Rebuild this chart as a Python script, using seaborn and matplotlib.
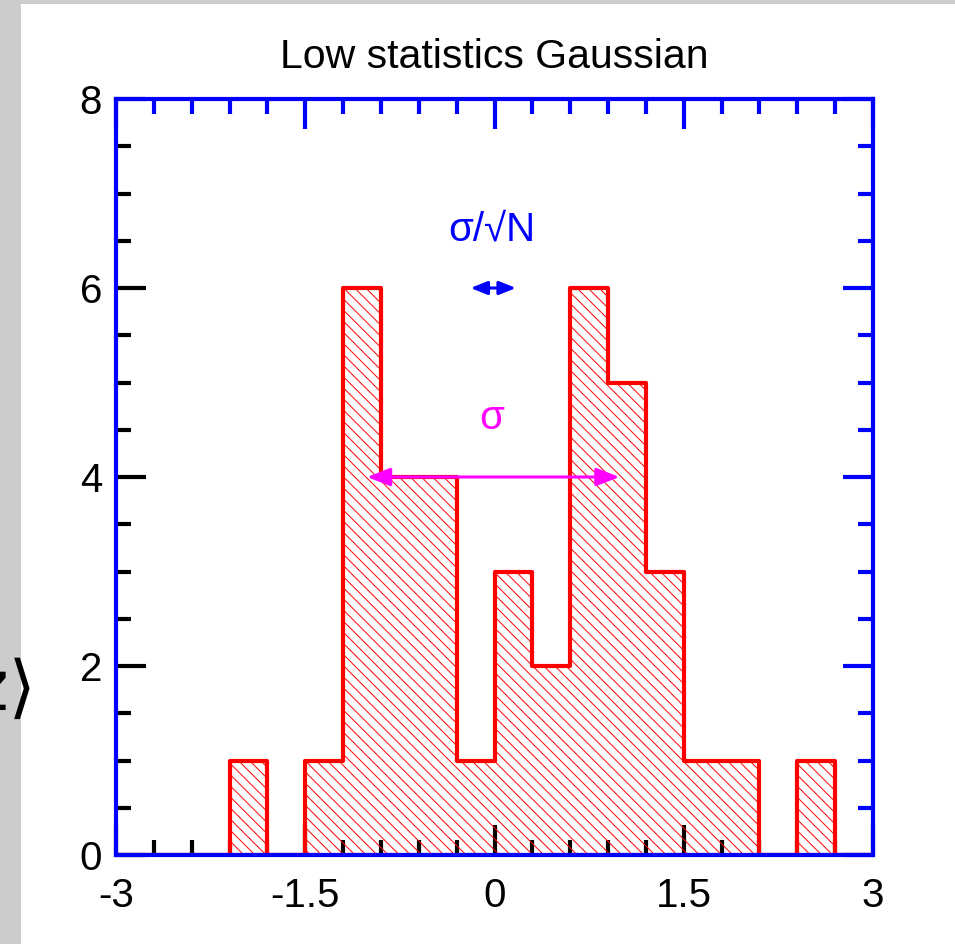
import numpy as np
import pandas as pd
import matplotlib
matplotlib.use("Agg")
import matplotlib.pyplot as plt
import matplotlib.patches as mpatches
from matplotlib.ticker import FixedLocator, MultipleLocator
import seaborn as sns

# ---- data ----
bin_edges = [-3.0, -2.7, -2.4, -2.1, -1.8, -1.5, -1.2, -0.9, -0.6, -0.3,
             0.0, 0.3, 0.6, 0.9, 1.2, 1.5, 1.8, 2.1, 2.4, 2.7, 3.0]
counts = [0, 0, 0, 1, 0, 1, 6, 4, 4, 1, 3, 2, 6, 5, 3, 1, 1, 0, 1, 0]
mean_val = -0.01
sigma_half = 1.0
sem_half = 0.18
sigma_arrow_y = 4.0
sem_arrow_y = 6.0
x_ticks = [-3, -1.5, 0, 1.5, 3]
x_ticklabels = ["-3", "-1.5", "0", "1.5", "3"]
y_ticks = [0, 2, 4, 6, 8]
y_ticklabels = ["0", "2", "4", "6", "8"]
title = "Low statistics Gaussian"
side_label = "⟨z⟩"

centers = [(a + b) / 2 for a, b in zip(bin_edges[:-1], bin_edges[1:])]
df = pd.DataFrame({"x": centers, "w": counts})

sns.set_style("white")
plt.rcParams["font.family"] = ["Liberation Sans", "DejaVu Sans"]
plt.rcParams["hatch.linewidth"] = 0.7
plt.rcParams["text.color"] = "black"
plt.rcParams["xtick.labelcolor"] = "black"
plt.rcParams["ytick.labelcolor"] = "black"

W, H = 955, 944
fig = plt.figure(figsize=(W / 100, H / 100), dpi=100, facecolor="white")

# gray strips on left and top
fig.patches.append(mpatches.Rectangle((0, 0), 21 / W, 1, transform=fig.transFigure,
                                      facecolor="#cccccc", edgecolor="none", zorder=0))
fig.patches.append(mpatches.Rectangle((0, 1 - 4 / H), 1, 4 / H, transform=fig.transFigure,
                                      facecolor="#cccccc", edgecolor="none", zorder=0))

ax = fig.add_axes([116 / W, 1 - 855 / H, (873 - 116) / W, (855 - 99) / H])
ax.set_facecolor("white")

sns.histplot(data=df, x="x", weights="w", bins=bin_edges, element="step", fill=True,
             color="#ff0000", facecolor="none", edgecolor="#ff0000", linewidth=3.0,
             hatch="\\\\\\", ax=ax, legend=False)

ax.set_xlim(-3, 3)
ax.set_ylim(0, 8)
ax.set_xlabel("")
ax.set_ylabel("")

# arrows
ax.annotate("", xy=(mean_val + sigma_half, sigma_arrow_y), xytext=(mean_val - sigma_half, sigma_arrow_y),
            arrowprops=dict(arrowstyle="<|-|>,head_length=1.4,head_width=0.55", color="#ff00ff",
                            lw=2.2, shrinkA=0, shrinkB=0), zorder=5)
ax.annotate("", xy=(mean_val + sem_half, sem_arrow_y), xytext=(mean_val - sem_half, sem_arrow_y),
            arrowprops=dict(arrowstyle="<|-|>,head_length=1.0,head_width=0.4", color="#0000ff",
                            lw=2.2, shrinkA=0, shrinkB=0), zorder=5)
ax.text(-0.02, 6.62, "σ/√N", color="#0000ff", fontsize=29, ha="center", va="center")
ax.text(-0.02, 4.62, "σ", color="#ff00ff", fontsize=29, ha="center", va="center")

ax.set_title(title, fontsize=29.5, pad=22, color="black")

# ticks
ax.xaxis.set_major_locator(FixedLocator(x_ticks))
ax.xaxis.set_minor_locator(MultipleLocator(0.3))
ax.yaxis.set_major_locator(FixedLocator(y_ticks))
ax.yaxis.set_minor_locator(MultipleLocator(0.5))
ax.set_xticklabels(x_ticklabels)
ax.set_yticklabels(y_ticklabels)
ax.tick_params(which="both", direction="in", bottom=True, left=True, top=True, right=True,
               width=3, color="black", labelsize=29, labelcolor="black")
ax.tick_params(which="major", length=21.5)
ax.tick_params(which="minor", length=10.5)
ax.tick_params(axis="x", which="major", pad=16)
ax.tick_params(axis="y", which="major", pad=10)

for sp in ax.spines.values():
    sp.set_color("#0000ff")
    sp.set_linewidth(3)
    sp.set_visible(True)

# clipped label on the far left
fig.text(37 / W, 1 - 690 / H, side_label, fontsize=50, ha="right", va="center",
         family=["DejaVu Sans"], zorder=3)

fig.canvas.draw()
for t in (ax.xaxis.get_major_ticks() + ax.xaxis.get_minor_ticks()
          + ax.yaxis.get_major_ticks() + ax.yaxis.get_minor_ticks()):
    t.tick2line.set_markeredgecolor("#0000ff")
    t.tick1line.set_markeredgecolor("black")

fig.savefig("out.png", dpi=100, facecolor="white")
